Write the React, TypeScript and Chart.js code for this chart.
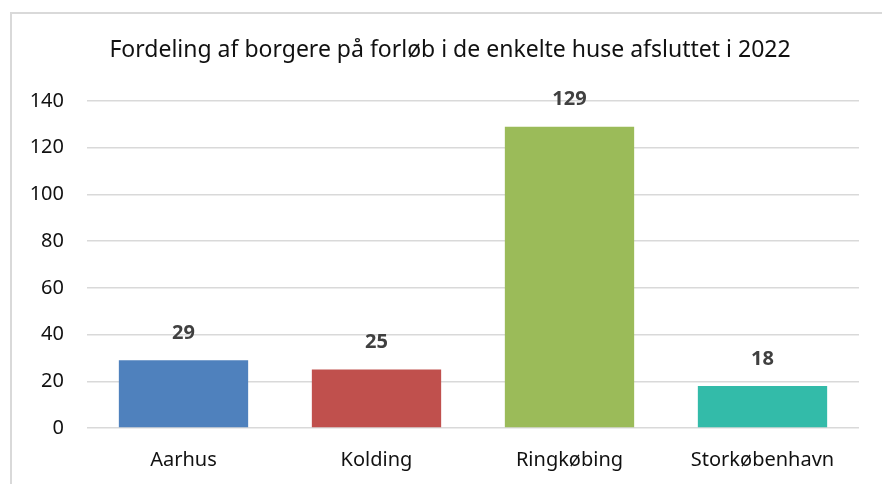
import React, { useEffect, useRef } from "react";
import { Chart, registerables } from "chart.js";

Chart.register(...registerables);

const title = "Fordeling af borgere på forløb i de enkelte huse afsluttet i 2022";
const categories = ["Aarhus", "Kolding", "Ringkøbing", "Storkøbenhavn"];
const values = [29, 25, 129, 18];
const barColors = ["#4f81bd", "#c0504d", "#9bbb59", "#33bba9"];
const yTicks = [0, 20, 40, 60, 80, 100, 120, 140];

const FONT = "'Noto Sans', sans-serif";

const labelPlugin = {
  id: "barLabels",
  afterDatasetsDraw(chart: any) {
    const ctx = chart.ctx;
    const meta = chart.getDatasetMeta(0);
    ctx.save();
    ctx.font = `bold 20px ${FONT}`;
    ctx.fillStyle = "#404040";
    ctx.textAlign = "center";
    ctx.textBaseline = "middle";
    meta.data.forEach((el: any, i: number) => {
      ctx.fillText(String(values[i]), el.x, el.y - 27);
    });
    ctx.restore();
  },
};

const titlePlugin = {
  id: "customTitle",
  afterDraw(chart: any) {
    const ctx = chart.ctx;
    ctx.save();
    ctx.font = `23px ${FONT}`;
    ctx.fillStyle = "#111";
    ctx.textAlign = "center";
    ctx.textBaseline = "middle";
    ctx.fillText(title, 450, 50);
    ctx.restore();
  },
};

export default function App() {
  const ref = useRef<HTMLCanvasElement>(null);
  useEffect(() => {
    if (!ref.current) return;
    const chart = new Chart(ref.current, {
      type: "bar",
      data: {
        labels: categories,
        datasets: [
          {
            data: values,
            backgroundColor: barColors,
            barPercentage: 0.67,
            categoryPercentage: 1,
          },
        ],
      },
      options: {
        animation: false,
        responsive: false,
        devicePixelRatio: 1,
        layout: { padding: { top: 101, right: 23, left: 0, bottom: 0 } },
        plugins: { legend: { display: false }, tooltip: { enabled: false }, title: { display: false } },
        scales: {
          x: {
            grid: { display: false, drawTicks: false },
            border: { display: false },
            ticks: { font: { family: FONT, size: 20 }, color: "#111", padding: 20 },
            afterFit: (s: any) => { s.height = 56; },
          },
          y: {
            min: 0,
            max: 140,
            afterBuildTicks: (s: any) => { s.ticks = yTicks.map((v) => ({ value: v })); },
            grid: { color: "#d9d9d9", lineWidth: 1.5, drawTicks: false },
            border: { display: false },
            ticks: { font: { family: FONT, size: 20 }, color: "#111", padding: 23 },
            afterFit: (s: any) => { s.width = 87; },
          },
        },
      },
      plugins: [labelPlugin, titlePlugin],
    });
    return () => chart.destroy();
  }, []);
  return (
    <div style={{ position: "fixed", left: 0, top: 0, width: 882, height: 484, overflow: "hidden", background: "#fff" }}>
      <div style={{ position: "absolute", left: 10, top: 12, width: 1000, height: 600, borderLeft: "2px solid #d9d9d9", borderTop: "2px solid #d9d9d9" }} />
      <canvas ref={ref} width={882} height={484} style={{ position: "absolute", left: 0, top: 0 }} />
    </div>
  );
}
